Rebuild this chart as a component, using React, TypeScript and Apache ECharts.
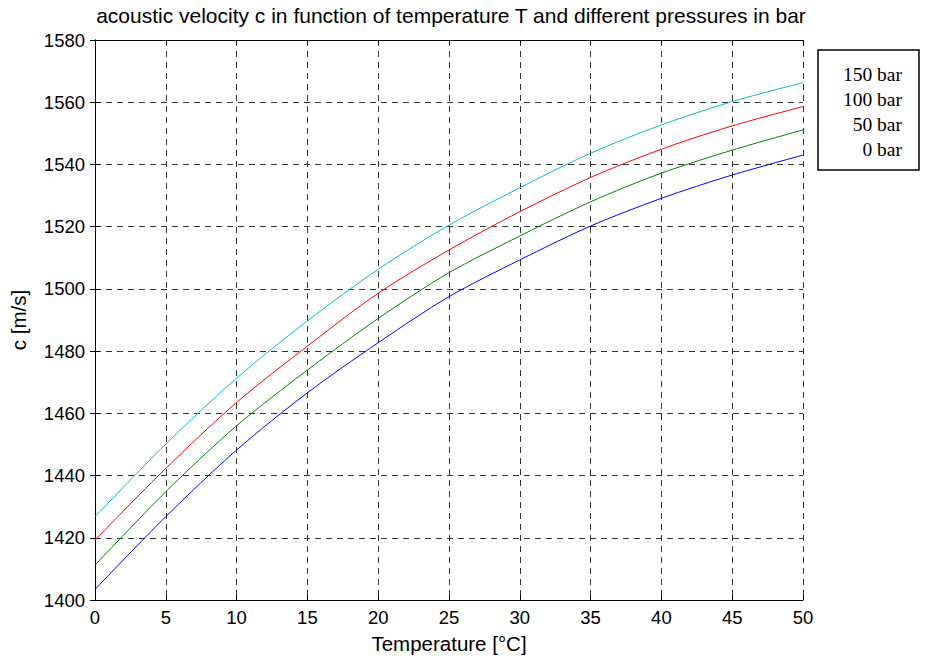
import React, { useEffect, useRef } from "react";
import * as echarts from "echarts";

const titleText = "acoustic velocity c in function of temperature T and different pressures in bar";
const xName = "Temperature [°C]";
const yName = "c [m/s]";

const temperatures = [0, 5, 10, 15, 20, 25, 30, 35, 40, 45, 50];
const pressures = [0, 50, 100, 150];
const c0bar = [1403.4, 1426.8, 1448.2, 1466.6, 1482.7, 1497.5, 1509.3, 1520.2, 1529.1, 1536.6, 1543.0];
const c50bar = [1411.2, 1434.8, 1456.0, 1473.9, 1490.5, 1505.2, 1517.0, 1528.0, 1537.2, 1544.6, 1551.1];
const c100bar = [1419.3, 1442.3, 1463.5, 1481.6, 1498.6, 1512.5, 1524.8, 1535.8, 1544.9, 1552.4, 1558.6];
const c150bar = [1426.8, 1450.1, 1471.3, 1489.7, 1506.3, 1520.5, 1532.5, 1543.6, 1552.7, 1560.2, 1566.3];
const seriesValues = [c0bar, c50bar, c100bar, c150bar];
const seriesColors = ["#0000ff", "#008000", "#ff0000", "#00bfbf"];

const SANS = "'Liberation Sans', Arial, sans-serif";
const SERIF = "'Liberation Serif', 'Times New Roman', serif";

export default function App() {
  const ref = useRef<HTMLDivElement>(null);
  useEffect(() => {
    document.body.style.margin = "0";
    if (!ref.current) return;
    const chart = echarts.init(ref.current, null, { renderer: "svg" });
    const names = pressures.map((p) => `${p} bar`);
    const gridLine = { show: true, lineStyle: { color: "#333", type: [6, 5] as any, width: 1 } };
    const tick = { show: true, inside: true, length: 5, lineStyle: { color: "#000" } };
    const axLine = { show: true, lineStyle: { color: "#000", width: 1 } };
    const legendNames = names.slice().reverse();
    chart.setOption({
      animation: false,
      backgroundColor: "#fff",
      title: {
        text: titleText,
        left: 446,
        textAlign: "center",
        top: 0,
        textStyle: { fontFamily: SANS, fontSize: 21, fontWeight: "normal", color: "#000" },
      },
      grid: { left: 95, right: 124, top: 40, bottom: 59, containLabel: false },
      xAxis: [
        {
          type: "value", min: 0, max: 50, interval: 5,
          name: xName, nameLocation: "middle", nameGap: 33,
          nameTextStyle: { fontFamily: SANS, fontSize: 20.5, color: "#000" },
          axisLine: axLine, axisTick: tick, splitLine: gridLine,
          axisLabel: { fontFamily: SANS, fontSize: 18.5, color: "#000", margin: 8, formatter: (v: number) => String(v) },
        },
        {
          type: "value", min: 0, max: 50, interval: 5, position: "top",
          axisLine: axLine, axisTick: tick, splitLine: { show: false }, axisLabel: { show: false },
        },
      ],
      yAxis: [
        {
          type: "value", min: 1400, max: 1580, interval: 20,
          name: yName, nameLocation: "middle", nameGap: 66,
          nameTextStyle: { fontFamily: SANS, fontSize: 20.5, color: "#000" },
          axisLine: axLine, axisTick: tick, splitLine: gridLine,
          axisLabel: { fontFamily: SANS, fontSize: 18.5, color: "#000", margin: 10, formatter: (v: number) => String(v) },
        },
        {
          type: "value", min: 1400, max: 1580, interval: 20, position: "right",
          axisLine: axLine, axisTick: tick, splitLine: { show: false }, axisLabel: { show: false },
        },
      ],
      series: seriesValues.map((vals, i) => ({
        name: names[i],
        type: "line",
        xAxisIndex: 0,
        yAxisIndex: 0,
        data: temperatures.map((t, j) => [t, vals[j]]),
        smooth: 0.3,
        showSymbol: false,
        lineStyle: { color: seriesColors[i], width: 1 },
        itemStyle: { color: seriesColors[i] },
      })),
      graphic: [
        {
          type: "rect",
          shape: { x: 818, y: 50, width: 101, height: 120 },
          style: { fill: "#fff", stroke: "#000", lineWidth: 1.5 },
          z: 100,
        },
        ...legendNames.map((n, k) => ({
          type: "text",
          x: 902,
          y: 74 + k * 25.3,
          z: 101,
          style: {
            text: n,
            fontFamily: SERIF,
            fontSize: 19.5,
            fill: "#000",
            align: "right",
            verticalAlign: "middle",
          },
        })),
      ],
    });
    return () => chart.dispose();
  }, []);
  return <div ref={ref} style={{ width: 927, height: 659 }} />;
}
